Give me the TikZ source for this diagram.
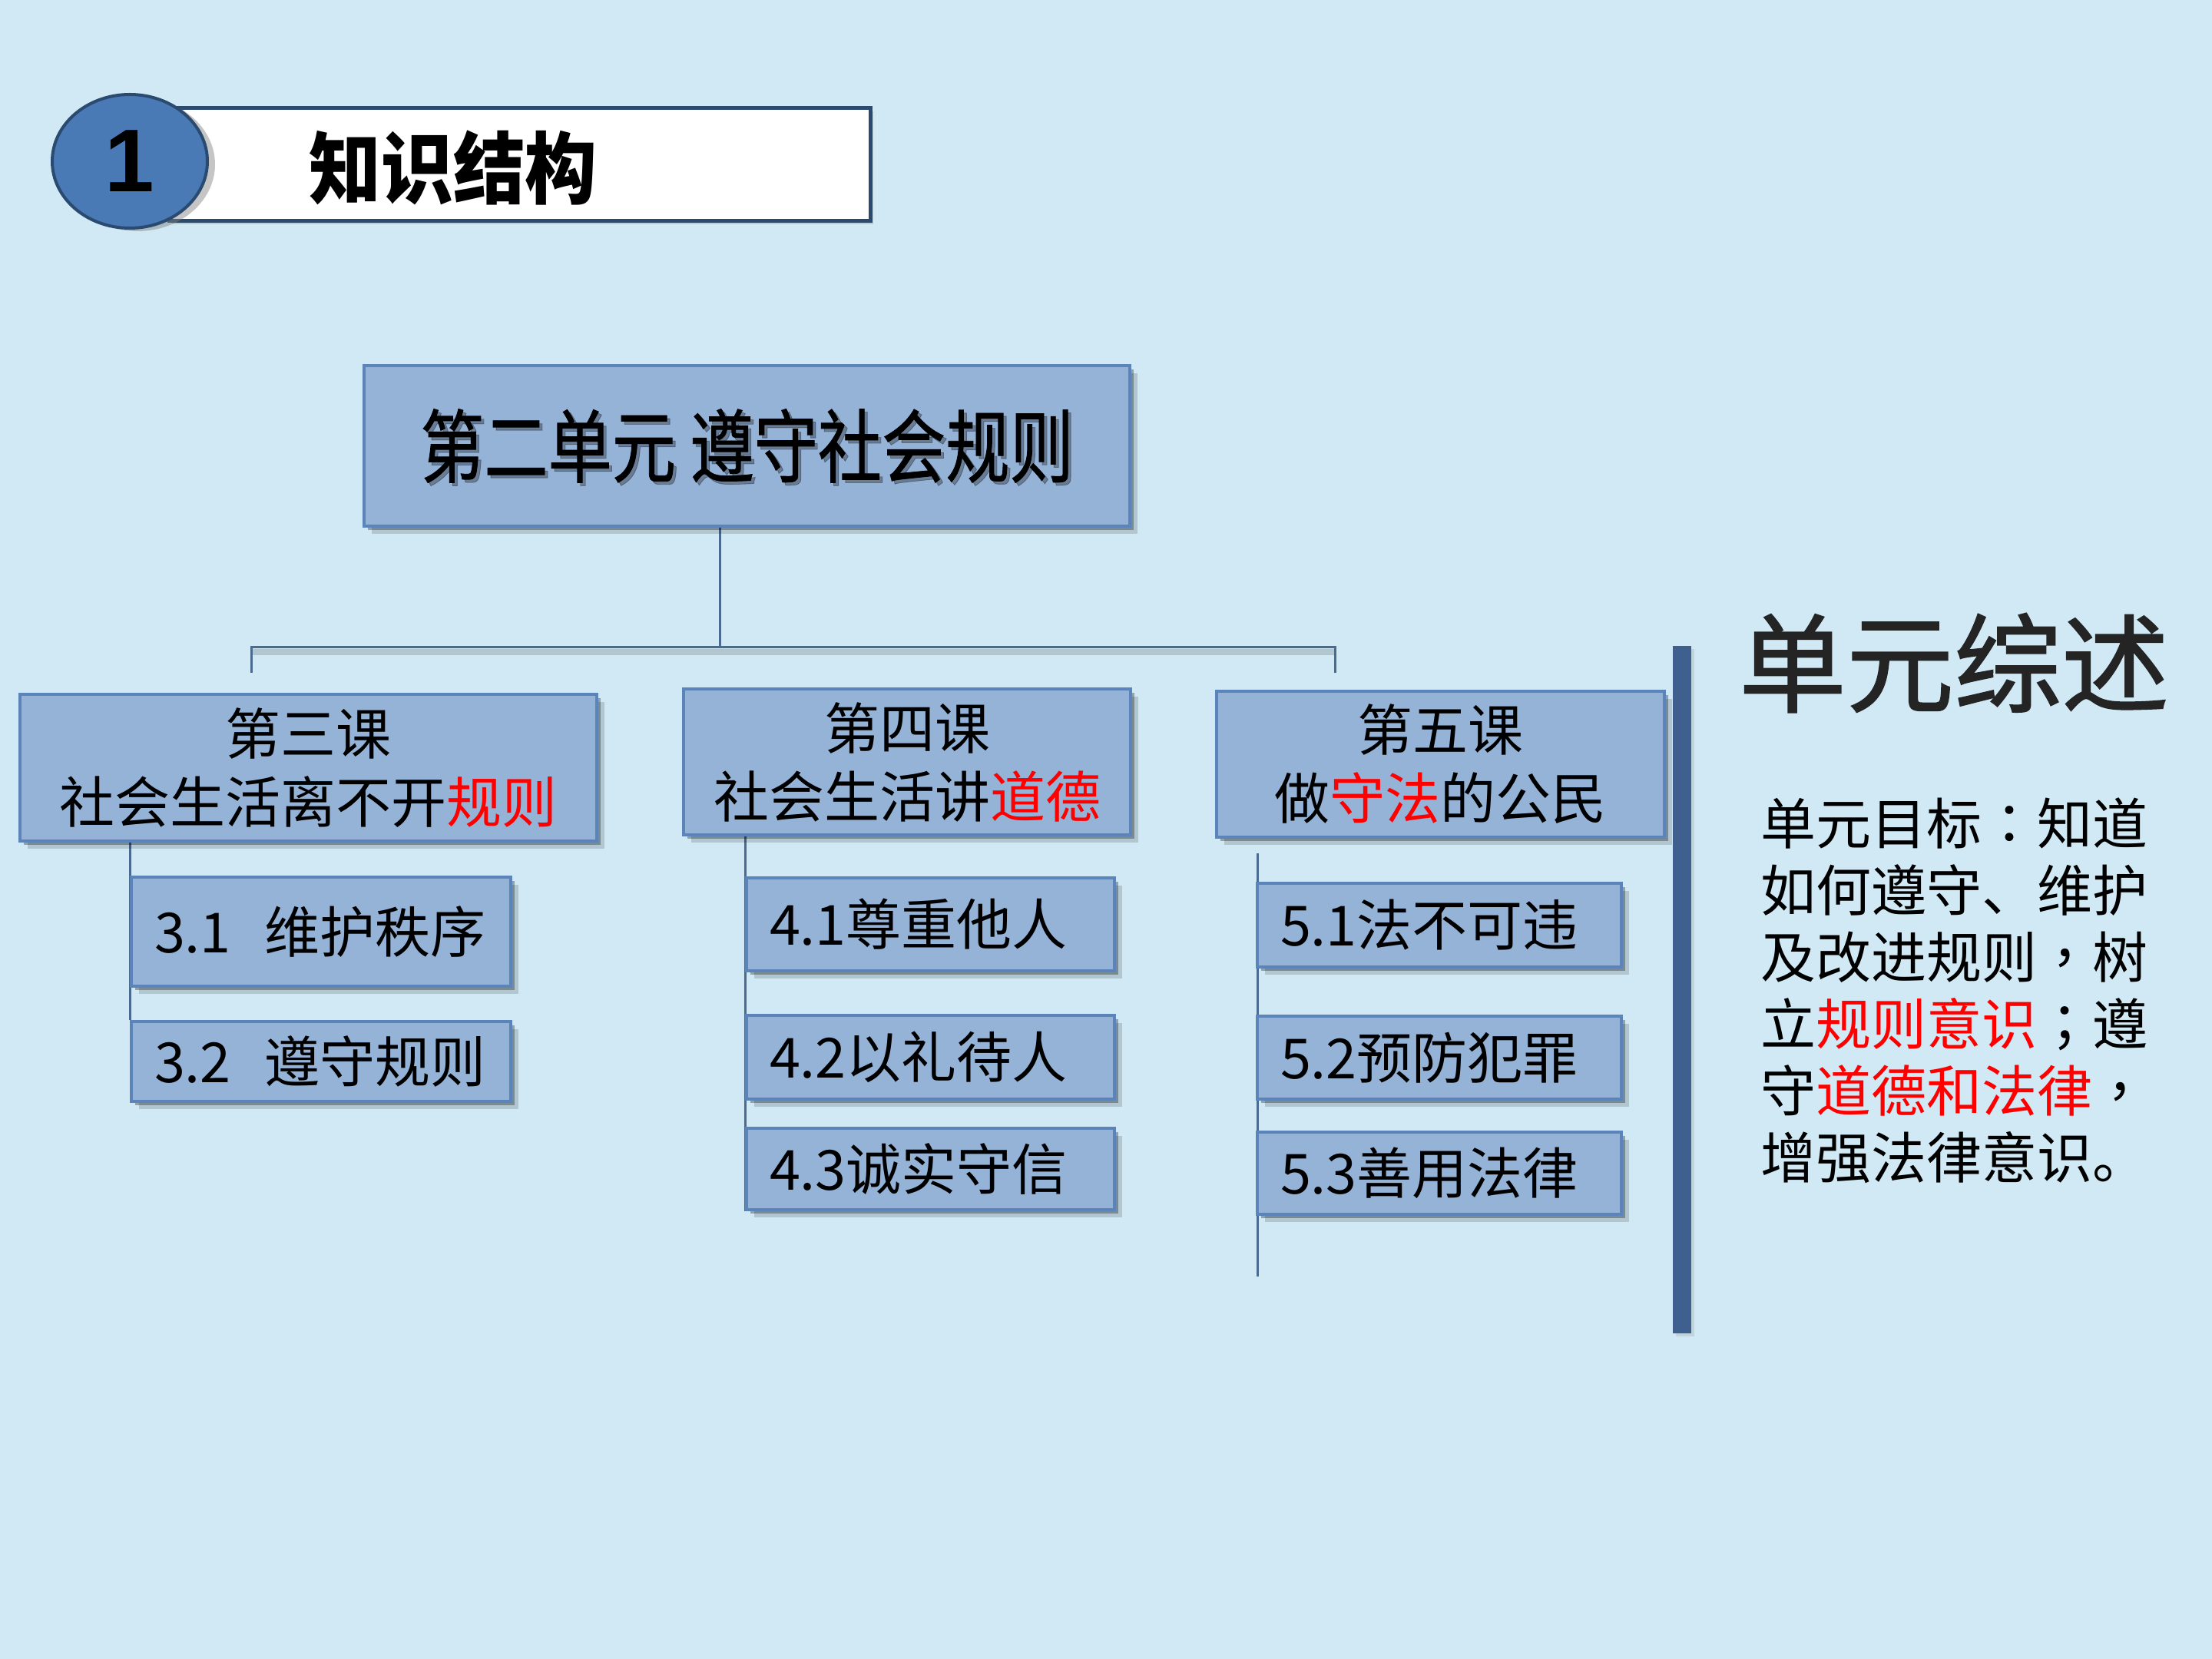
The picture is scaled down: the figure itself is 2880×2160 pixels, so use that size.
\documentclass[tikz,border=0pt]{standalone}
\usepackage{fontspec}
\setmainfont{Noto Sans CJK SC}
\newfontfamily\cjkcond[FakeStretch=0.8,FakeBold=0.8]{Noto Sans CJK SC}
\newfontfamily\cjktitle[FakeStretch=0.92]{Noto Sans CJK SC}
\newfontfamily\cjkheavy[FakeBold=1.2]{Noto Sans CJK SC}
\newfontfamily\tcpunct{Noto Sans CJK TC}
\newfontfamily\numfont{Liberation Sans}
\usetikzlibrary{shapes.geometric,shadows}
\definecolor{bg}{HTML}{D0E9F4}
\definecolor{boxfill}{HTML}{95B3D7}
\definecolor{boxline}{HTML}{5B84BB}
\definecolor{conn}{HTML}{4A6A90}
\definecolor{barcol}{HTML}{3F5F8F}
\definecolor{circfill}{HTML}{4A7AB6}
\definecolor{circline}{HTML}{2B4A70}
\definecolor{titlegray}{HTML}{242424}
\pgfdeclarelayer{background}
\pgfsetlayers{background,main}
\tikzset{
  softshadow/.style={drop shadow={shadow xshift=2.5pt,shadow yshift=-2.5pt,opacity=0.15,fill=black},
                     drop shadow={shadow xshift=1.2pt,shadow yshift=-1.2pt,opacity=0.3,fill=black}},
  box/.style={draw=boxline, line width=0.8pt, fill=boxfill, softshadow, inner sep=0pt, align=center},
  lesson/.style={box, font=\fontsize{18}{22.25}\selectfont},
  sub/.style={box, font=\fontsize{18}{22}\selectfont, align=left, inner xsep=7.5pt},
  conn/.style={draw=conn, line width=0.75pt},
}
\begin{document}
\begin{tikzpicture}[x=0.25pt,y=-0.25pt]
\begin{pgfonlayer}{background}
\fill[bg] (0,0) rectangle (2880,2160);
\end{pgfonlayer}
\useasboundingbox (0,0) rectangle (2880,2160);

% header
\node[draw=circline, line width=1.25pt, fill=white, minimum width=228.25pt, minimum height=36.75pt,
      drop shadow={shadow xshift=1pt,shadow yshift=-1pt,opacity=0.25}] (banner) at (676.5,214.5) {};
\node[font=\cjktitle\bfseries\fontsize{25.5}{30}\selectfont] (title) at (590,219) {知识结构};
\node[ellipse, draw=circline, line width=1pt, fill=circfill, minimum width=50.5pt, minimum height=43.5pt,
      inner sep=0pt, font=\numfont\bfseries\fontsize{29}{30}\selectfont,
      drop shadow={shadow xshift=2.5pt,shadow yshift=-1pt,opacity=0.45}] (num) at (169,210) {1};

% unit box
\node[box, minimum width=249.25pt, minimum height=52.25pt] (unit) at (972.5,580.5) {};
\node[font=\cjkcond\fontsize{26}{30}\selectfont, text=black, opacity=0.3] (unitshadow) at ([xshift=1pt,yshift=-1pt]unit.center) {第二单元 遵守社会规则};
\node[font=\cjkcond\fontsize{26}{30}\selectfont] (unittext) at (unit.center) {第二单元 遵守社会规则};

% lessons
\node[lesson, minimum width=187.75pt, minimum height=47.75pt] (l3) at (401.5,999.5) {第三课\\社会生活离不开\textcolor{red}{规则}};
\node[lesson, minimum width=145.5pt, minimum height=47.5pt] (l4) at (1181,992) {第四课\\社会生活讲\textcolor{red}{道德}};
\node[lesson, minimum width=145.75pt, minimum height=47.5pt] (l5) at (1875.5,995) {第五课\\做\textcolor{red}{守法}的公民};

% sub items
\node[sub, text width=108.5pt, minimum height=35.5pt] (s31) at (418,1213) {\mbox{3.1\hspace{0.6em}维护秩序}};
\node[sub, text width=108.5pt, minimum height=26pt] (s32) at (418,1382) {\mbox{3.2\hspace{0.6em}遵守规则}};
\node[sub, text width=104.75pt, minimum height=30.25pt] (s41) at (1211.5,1203.5) {4.1尊重他人};
\node[sub, text width=104.75pt, minimum height=27.25pt] (s42) at (1211.5,1376.5) {4.2以礼待人};
\node[sub, text width=104.75pt, minimum height=26.5pt] (s43) at (1211.5,1522) {4.3诚实守信};
\node[sub, text width=103.5pt, minimum height=27.25pt] (s51) at (1874,1204.5) {5.1法不可违};
\node[sub, text width=103.5pt, minimum height=27pt] (s52) at (1874,1377) {5.2预防犯罪};
\node[sub, text width=103.5pt, minimum height=26.75pt] (s53) at (1874,1527.5) {5.3善用法律};

% connectors
\coordinate (hubM) at (937,843);
\coordinate (hubL) at (327,843);
\coordinate (hubR) at (1738,843);
\coordinate (dropL) at (327,876);
\coordinate (dropR) at (1738,876);
\coordinate (l5top) at (1637,1111);
\coordinate (l5bot) at (1637,1662);
\begin{pgfonlayer}{background}
\draw[conn, draw=black, opacity=0.15, line width=2pt, transform canvas={yshift=-1.5pt}] (hubL) -- (hubR);
\draw[conn] (unit.south -| hubM) -- (hubM);
\draw[conn] (dropL) -- (hubL) -- (hubR) -- (dropR);
\draw[conn] (l3.south -| s31.west) -- (s32.north west);
\draw[conn] (l4.south -| s41.west) -- (s43.south west);
\draw[conn] (l5top) -- (l5bot);
\end{pgfonlayer}

% right side
\node[fill=barcol, minimum width=6pt, minimum height=223.75pt, inner sep=0pt,
      drop shadow={shadow xshift=1pt,shadow yshift=-1pt,opacity=0.2}] (bar) at (2190,1288.5) {};
\node[font=\cjkheavy\fontsize{35}{40}\selectfont, text=titlegray] (summary) at (2544,863) {单元综述};
\node[anchor=north west, inner sep=0pt, align=left, font=\fontsize{18}{21.75}\selectfont] (goal) at (2292,1038)
  {单元目标{\tcpunct ：}知道\\如何遵守、维护\\及改进规则{\tcpunct ，}树\\立\textcolor{red}{规则意识}{\tcpunct ；}遵\\守\textcolor{red}{道德和法律}{\tcpunct ，}\\增强法律意识。};
\end{tikzpicture}
\end{document}
